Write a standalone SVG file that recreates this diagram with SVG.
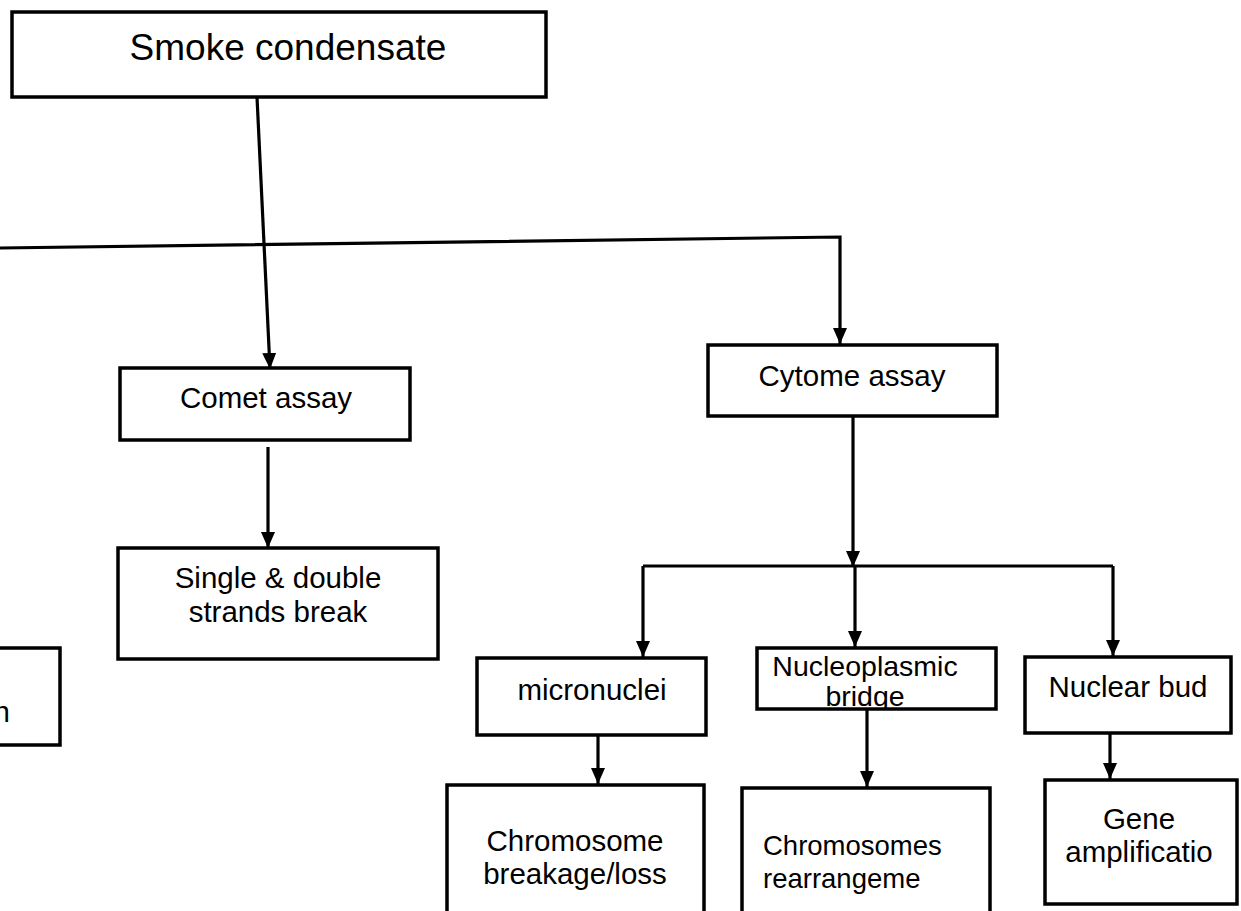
<svg xmlns="http://www.w3.org/2000/svg" width="1241" height="911" viewBox="0 0 1241 911">
  <defs>
    <marker id="arr" viewBox="0 0 16 14" refX="16" refY="7" markerWidth="16" markerHeight="14" markerUnits="userSpaceOnUse" orient="auto">
      <path d="M0,0 L16,7 L0,14 Z" fill="#000"/>
    </marker>
    <clipPath id="clipNB"><rect x="757" y="648" width="240" height="61"/></clipPath>
    <clipPath id="clipCR"><rect x="742" y="788" width="250" height="123"/></clipPath>
    <clipPath id="clipGA"><rect x="1045" y="780" width="196" height="124"/></clipPath>
  </defs>
  <style>
    rect.box { fill: #fff; stroke: #000; stroke-width: 3.5; }
    text { font-family: "Liberation Sans", Arial, sans-serif; font-size: 29.5px; fill: #000; text-anchor: middle; }
    .conn line, .conn polyline { stroke: #000; stroke-width: 3.2; fill: none; }
  </style>

  <g class="conn" id="connectors">
    <line x1="257" y1="97" x2="270" y2="369" marker-end="url(#arr)"/>
    <polyline points="0,248 840,237 840,344" marker-end="url(#arr)"/>
    <line x1="268" y1="447" x2="268" y2="548" marker-end="url(#arr)"/>
    <line x1="853" y1="416" x2="853" y2="567" marker-end="url(#arr)"/>
    <polyline points="643,566 1113,566"/>
    <line x1="643" y1="566" x2="643" y2="657" marker-end="url(#arr)"/>
    <line x1="855" y1="566" x2="855" y2="647" marker-end="url(#arr)"/>
    <line x1="1113" y1="566" x2="1113" y2="656" marker-end="url(#arr)"/>
    <line x1="598" y1="735" x2="598" y2="784" marker-end="url(#arr)"/>
    <line x1="867" y1="709" x2="867" y2="787" marker-end="url(#arr)"/>
    <line x1="1110" y1="733" x2="1110" y2="779" marker-end="url(#arr)"/>
  </g>

  <g id="smoke">
    <rect class="box" x="12" y="12" width="534" height="85"/>
    <text x="288" y="60" style="font-size:37px">Smoke condensate</text>
  </g>
  <g id="comet">
    <rect class="box" x="120" y="368" width="290" height="72"/>
    <text x="266" y="408">Comet assay</text>
  </g>
  <g id="single">
    <rect class="box" x="118" y="548" width="320" height="111"/>
    <text x="278" y="588">Single &amp; double</text>
    <text x="278" y="622">strands break</text>
  </g>
  <g id="leftbox">
    <rect class="box" x="-10" y="648" width="70" height="97"/>
    <text x="10" y="722" style="text-anchor:end">n</text>
  </g>
  <g id="cytome">
    <rect class="box" x="708" y="345" width="289" height="71"/>
    <text x="852" y="386">Cytome assay</text>
  </g>
  <g id="micronuclei">
    <rect class="box" x="477" y="658" width="229" height="77"/>
    <text x="592" y="700">micronuclei</text>
  </g>
  <g id="nucleoplasmic">
    <rect class="box" x="757" y="648" width="239" height="61"/>
    <g clip-path="url(#clipNB)">
      <text x="865" y="676" style="font-size:28.5px">Nucleoplasmic</text>
      <text x="865" y="706" style="font-size:28.5px">bridge</text>
    </g>
  </g>
  <g id="nuclearbud">
    <rect class="box" x="1025" y="657" width="206" height="76"/>
    <text x="1128" y="697">Nuclear bud</text>
  </g>
  <g id="chrombreak">
    <rect class="box" x="447" y="785" width="257" height="140"/>
    <text x="575" y="851">Chromosome</text>
    <text x="575" y="884">breakage/loss</text>
  </g>
  <g id="chromrearr">
    <rect class="box" x="742" y="788" width="248" height="140"/>
    <g clip-path="url(#clipCR)">
      <text x="763" y="855" style="text-anchor:start;font-size:27.5px">Chromosomes</text>
      <text x="763" y="888" style="text-anchor:start;font-size:27.5px">rearrangeme</text>
    </g>
  </g>
  <g id="gene">
    <rect class="box" x="1045" y="780" width="192" height="124"/>
    <g clip-path="url(#clipGA)">
      <text x="1139" y="829">Gene</text>
      <text x="1139" y="862">amplificatio</text>
    </g>
  </g>
</svg>
